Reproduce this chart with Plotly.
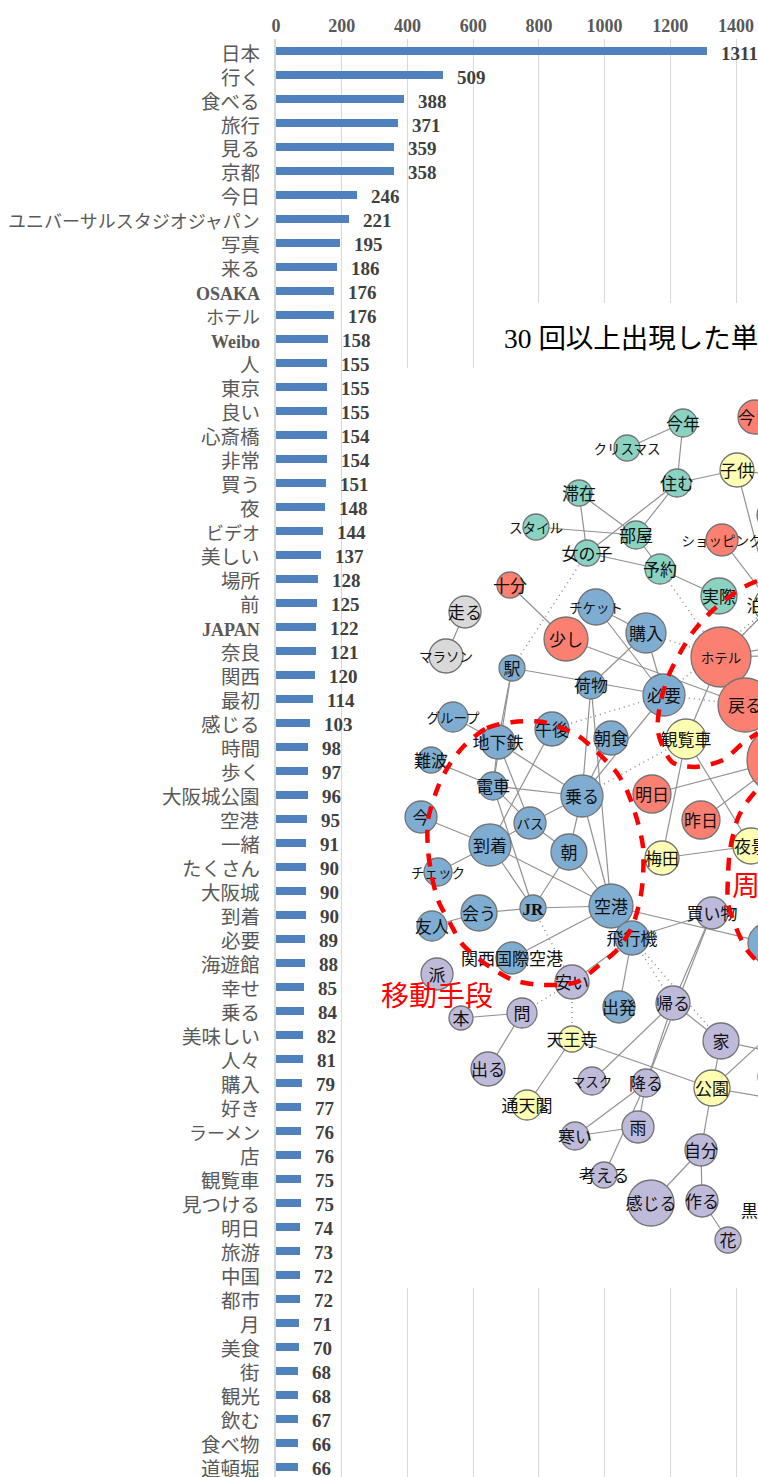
import plotly.graph_objects as go

# ---------- bar chart data ----------
categories = ["日本","行く","食べる","旅行","見る","京都","今日","ユニバーサルスタジオジャパン","写真","来る",
    "OSAKA","ホテル","Weibo","人","東京","良い","心斎橋","非常","買う","夜","ビデオ","美しい","場所","前",
    "JAPAN","奈良","関西","最初","感じる","時間","歩く","大阪城公園","空港","一緒","たくさん","大阪城","到着",
    "必要","海遊館","幸せ","乗る","美味しい","人々","購入","好き","ラーメン","店","観覧車","見つける","明日",
    "旅游","中国","都市","月","美食","街","観光","飲む","食べ物","道頓堀"]
counts = [1311,509,388,371,359,358,246,221,195,186,176,176,158,155,155,155,154,154,151,148,144,137,128,125,
    122,121,120,114,103,98,97,96,95,91,90,90,90,89,88,85,84,82,81,79,77,76,76,75,75,74,73,72,72,71,70,68,68,67,66,66]
x_ticks = [0,200,400,600,800,1000,1200,1400]

# ---------- network data (layout coordinates) ----------
B,S,T,Y,P,G = "#7FADD1","#FB8072","#8AD3C2","#FFFFB3","#BEBADA","#D9D9D9"
nodes = [
 ("今年",683,423,14,T),("クリスマス",627,448,13,T),("今日",755,417,17,S),("子供",737,470,17,Y),("住む",677,483,14,T),
 ("滞在",579,493,13,T),("部屋",636,535,14,T),("スタイル",536,527,13,T),("女の子",587,553,13,T),("予約",660,569,15,T),
 ("ショッピング",722,540,16,S),("salmon_a",772,515,15,S),("実際",719,596,18,T),("泊まる",772,605,18,Y),("十分",510,585,13,S),
 ("走る",465,612,16,G),("マラソン",446,656,17,G),("チケット",596,607,18,B),("購入",646,633,20,B),("少し",566,639,22,S),
 ("ホテル",721,657,30,S),("駅",512,668,13,B),("荷物",591,685,14,B),("必要",664,695,21,B),("戻る",745,705,27,S),
 ("グループ",453,717,15,B),("地下鉄",498,742,17,B),("午後",552,729,17,B),("朝食",611,738,17,B),("観覧車",686,739,20,Y),
 ("salmon_b",781,760,34,S),("難波",431,760,13,B),("電車",493,786,14,B),("乗る",582,796,21,B),("明日",652,794,19,S),
 ("昨日",701,820,19,S),("今",421,817,16,B),("バス",530,823,16,B),("到着",490,845,21,B),("朝",569,852,18,B),
 ("チェック",438,872,14,B),("梅田",662,858,17,Y),("夜景",751,846,18,Y),("JR",533,908,13,B),("会う",479,913,18,B),
 ("空港",611,906,22,B),("友人",432,926,15,B),("買い物",712,913,16,P),("飛行機",632,938,17,B),("blue_a",768,943,20,B),
 ("関西国際空港",512,958,16,B),("派",437,974,16,P),("安い",572,982,17,P),("本",461,1018,12,P),("問",522,1013,15,P),
 ("出発",619,1007,16,B),("帰る",673,1003,17,P),("家",721,1041,18,P),("天王寺",572,1039,13,Y),("出る",488,1069,17,P),
 ("マスク",592,1081,14,P),("降る",646,1083,14,P),("公園",712,1088,18,Y),("通天閣",527,1105,15,Y),("雨",638,1127,16,P),
 ("寒い",575,1136,14,P),("考える",604,1175,13,P),("自分",701,1150,16,P),("感じる",651,1203,23,P),("作る",702,1201,16,P),
 ("花",728,1240,13,P),("purple_a",773,1077,15,P),
 ("off1",810,1060,1,P),("off2",810,998,1,P),("off3",810,1105,1,P),("off4",810,480,1,P),("off5",810,655,1,P),("off6",810,640,1,P),
]
solid_edges = [("今年","クリスマス"),("今年","住む"),("住む","子供"),("住む","女の子"),("住む","部屋"),("滞在","部屋"),("滞在","女の子"),
 ("スタイル","部屋"),("部屋","予約"),("女の子","予約"),("予約","実際"),("子供","泊まる"),("ショッピング","泊まる"),("十分","少し"),
 ("走る","マラソン"),("チケット","購入"),("チケット","必要"),("少し","戻る"),("購入","荷物"),("購入","必要"),("駅","必要"),("荷物","乗る"),
 ("駅","地下鉄"),("駅","電車"),("グループ","地下鉄"),("地下鉄","電車"),("地下鉄","乗る"),("地下鉄","バス"),("午後","到着"),("朝食","乗る"),
 ("必要","乗る"),("難波","電車"),("電車","乗る"),("電車","バス"),("電車","JR"),("乗る","バス"),("乗る","朝"),("乗る","空港"),("荷物","空港"),
 ("今","到着"),("バス","到着"),("バス","朝"),("到着","チェック"),("到着","JR"),("到着","空港"),("朝","JR"),("朝","空港"),("JR","会う"),
 ("JR","空港"),("会う","友人"),("空港","関西国際空港"),("空港","blue_a"),("飛行機","買い物"),("飛行機","安い"),("飛行機","出発"),
 ("買い物","帰る"),("買い物","降る"),("観覧車","ホテル"),("観覧車","梅田"),("観覧車","夜景"),("梅田","夜景"),("明日","salmon_b"),("昨日","salmon_b"),
 ("帰る","マスク"),("帰る","降る"),("帰る","家"),("家","公園"),("家","off1"),("公園","off2"),("公園","off3"),("公園","天王寺"),("公園","自分"),
 ("天王寺","通天閣"),("問","出る"),("問","本"),("降る","寒い"),("降る","雨"),("降る","考える"),("雨","寒い"),("自分","感じる"),("自分","作る"),
 ("作る","花"),("子供","off4"),("ホテル","off5"),("ホテル","off6"),("ホテル","泊まる")]
dotted_edges = [("女の子","駅"),("予約","ホテル"),("購入","ホテル"),("泊まる","ホテル"),("泊まる","必要"),("午後","必要"),("乗る","観覧車"),
 ("必要","戻る"),("JR","安い"),("安い","天王寺"),("安い","問"),("飛行機","帰る"),("飛行機","家")]

transport_curve_x = [463,487,513,543,577,597,617,628,638,643,643,640,632,617,597,577,543,513,490,463,450,438,432,428,428,438,448,463]
transport_curve_y = [747,728,722,722,735,752,773,793,823,847,877,900,927,950,967,982,985,980,967,945,923,900,877,850,820,787,767,747]
around_curve_x = [757,742,713,693,680,668,660,658,672,695,723,743,758,None,755,747,738,730,728,728,737,747,758]
around_curve_y = [581,588,610,632,653,677,705,732,762,767,760,743,733,None,792,802,818,850,877,903,930,950,962]
panel_x = [380,490,490,758,758,380,380]
panel_y = [368,368,303,303,1288,1288,368]

# ---------- derived ----------
pos = {n[0]:(n[1],n[2]) for n in nodes}
def edge_xy(edges):
    xs, ys = [], []
    for a,b in edges:
        xs += [pos[a][0],pos[b][0],None]; ys += [pos[a][1],pos[b][1],None]
    return xs, ys
def is_kana(s):
    return all(0x30A0 <= ord(c) <= 0x30FF for c in s)

JP = "Noto Sans CJK JP"
SERIF = "Liberation Serif"
fig = go.Figure()
fig.add_trace(go.Bar(x=counts, y=categories, orientation="h", width=0.34,
                     marker=dict(color="#4F81BD", line=dict(width=0)), hoverinfo="skip", showlegend=False))

over = dict(xaxis="x2", yaxis="y2", showlegend=False, hoverinfo="skip")
fig.add_trace(go.Scatter(x=panel_x, y=panel_y, mode="lines", fill="toself", fillcolor="white",
                         line=dict(width=0), **over))
ex, ey = edge_xy(solid_edges)
fig.add_trace(go.Scatter(x=ex, y=ey, mode="lines", line=dict(color="#929292", width=1.2), **over))
ex, ey = edge_xy(dotted_edges)
fig.add_trace(go.Scatter(x=ex, y=ey, mode="lines", line=dict(color="#8C8C8C", width=1.5, dash="1px,4px"), **over))

vis = [n for n in nodes if not n[0].startswith("off")]
labels = ["" if ("_" in n[0]) else ("<b>JR</b>" if n[0]=="JR" else n[0]) for n in vis]
fig.add_trace(go.Scatter(x=[n[1] for n in vis], y=[n[2] for n in vis], mode="markers",
    marker=dict(size=[2*n[3] for n in vis], color=[n[4] for n in vis], opacity=1, line=dict(color="#747474", width=1.3)),
    **over))
fig.add_trace(go.Scatter(x=[n[1] for n in vis], y=[n[2]+3 for n in vis], mode="text", text=labels,
    textposition="middle center",
    textfont=dict(family=SERIF+", "+JP, color="#111111", size=[13.5 if is_kana(n[0]) else 17 for n in vis]),
    **over))
red = dict(color="#FF0000", width=4.5, dash="13px,11px")
fig.add_trace(go.Scatter(x=transport_curve_x, y=transport_curve_y, mode="lines",
                         line=dict(shape="spline", smoothing=0.8, **red), **over))
fig.add_trace(go.Scatter(x=around_curve_x, y=around_curve_y, mode="lines",
                         line=dict(shape="spline", smoothing=0.8, **red), **over))

ann = []
for c, v in zip(categories, counts):
    ann.append(dict(x=v, y=c, xref="x", yref="y", text=f"<b>{v}</b>", showarrow=False, xanchor="left",
                    xshift=12, yshift=-2, font=dict(family=SERIF, size=19, color="#404040")))
    size = 18 if (is_kana(c) or c.isascii()) else 19.5
    txt = f"<b>{c}</b>" if c.isascii() else c
    ann.append(dict(x=0, y=c, xref="x", yref="y", text=txt, showarrow=False, xanchor="right",
                    xshift=-14, yshift=-3, font=dict(family=SERIF+", "+JP, size=size, color="#595959")))
ann.append(dict(x=502, y=338, xref="x2", yref="y2", text="30 回以上出現した単", showarrow=False, xanchor="left",
                font=dict(family=SERIF+", "+JP, size=27.5, color="#000000")))
ann.append(dict(x=379, y=994, xref="x2", yref="y2", text="移動手段", showarrow=False, xanchor="left",
                font=dict(family=JP, size=28, color="#FF0000")))
ann.append(dict(x=730, y=884, xref="x2", yref="y2", text="周", showarrow=False, xanchor="left",
                font=dict(family=JP, size=28, color="#FF0000")))
ann.append(dict(x=739, y=1209, xref="x2", yref="y2", text="黒", showarrow=False, xanchor="left",
                font=dict(family=JP, size=17, color="#111111")))

fig.update_layout(
    width=758, height=1477, margin=dict(l=276, r=0, t=39, b=0, autoexpand=False),
    paper_bgcolor="white", plot_bgcolor="white", showlegend=False, annotations=ann, bargap=0,
    xaxis=dict(side="top", range=[0, 482/0.3286], tickmode="array", tickvals=x_ticks,
               ticktext=[f"<b>{t}</b>" for t in x_ticks], showgrid=True, gridcolor="#D9D9D9", gridwidth=1.4,
               zeroline=False, showline=False, ticks="", ticklabelstandoff=2,
               tickfont=dict(family=SERIF, size=18, color="#595959")),
    yaxis=dict(type="category", categoryorder="array", categoryarray=categories, range=[59.42,-0.5],
               showticklabels=False,
               showgrid=False, zeroline=False, showline=True, linecolor="#D9D9D9", linewidth=1.6, ticks=""),
    xaxis2=dict(overlaying="x", range=[276,758], visible=False, anchor="y2"),
    yaxis2=dict(overlaying="y", range=[1477,39], visible=False, anchor="x2"),
)
fig.write_html("out.html", config=dict(displayModeBar=False),
               post_script="document.body.style.margin='0';document.body.style.overflow='hidden';")
